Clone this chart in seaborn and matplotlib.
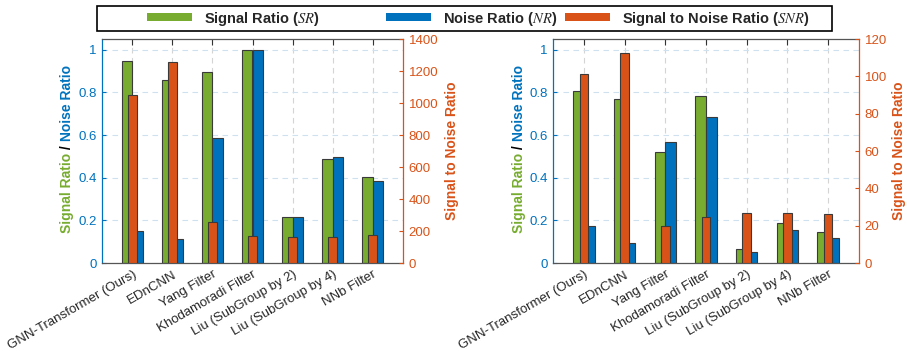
import numpy as np
import pandas as pd
import matplotlib
matplotlib.use("Agg")
import matplotlib.pyplot as plt
import seaborn as sns
from matplotlib.patches import Patch, Rectangle
from matplotlib.transforms import IdentityTransform

# ---------------- data ----------------
methods = ["GNN-Transformer (Ours)", "EDnCNN", "Yang Filter", "Khodamoradi Filter",
           "Liu (SubGroup by 2)", "Liu (SubGroup by 4)", "NNb Filter"]
sr_left = [0.949, 0.857, 0.895, 0.997, 0.214, 0.486, 0.403]
nr_left = [0.150, 0.114, 0.586, 0.997, 0.217, 0.497, 0.385]
snr_left = [1050, 1255, 257, 166, 163, 165, 175]
sr_right = [0.808, 0.768, 0.519, 0.784, 0.065, 0.187, 0.145]
nr_right = [0.172, 0.092, 0.568, 0.685, 0.053, 0.153, 0.118]
snr_right = [101.4, 112.4, 19.6, 24.4, 26.8, 26.8, 26.2]
ratio_ticks = [0, 0.2, 0.4, 0.6, 0.8, 1]
ratio_ticklabels = ["0", "0.2", "0.4", "0.6", "0.8", "1"]
snr_ticks_left = [0, 200, 400, 600, 800, 1000, 1200, 1400]
snr_ticks_right = [0, 20, 40, 60, 80, 100, 120]
legend_labels = [r"Signal Ratio ($\mathit{SR}$)", r"Noise Ratio ($\mathit{NR}$)",
                 r"Signal to Noise Ratio ($\mathit{SNR}$)"]

GREEN = "#77AC30"
BLUE = "#0072BD"
ORANGE = "#D95319"
EDGE = "#3a3a3a"

sns.set_style("white")
plt.rcParams["font.family"] = ["Liberation Sans", "DejaVu Sans"]
plt.rcParams["mathtext.fontset"] = "stix"

W, H = 907, 351
fig = plt.figure(figsize=(W / 100, H / 100), dpi=100)


def rect(x0, x1, y0, y1):
    return [x0 / W, 1 - y1 / H, (x1 - x0) / W, (y1 - y0) / H]


def panel(r, sr, nr, snr, snr_top, snr_ticks):
    ax = fig.add_axes(r)
    df = pd.DataFrame({"Method": methods * 2,
                       "Metric": ["SR"] * len(methods) + ["NR"] * len(methods),
                       "Value": list(sr) + list(nr)})
    sns.barplot(data=df, x="Method", y="Value", hue="Metric", order=methods,
                hue_order=["SR", "NR"], palette=[GREEN, BLUE], width=0.52,
                saturation=1, edgecolor=EDGE, linewidth=0.8, legend=False,
                errorbar=None, ax=ax)
    ax2 = ax.twinx()
    df2 = pd.DataFrame({"Method": methods, "SNR": snr})
    sns.barplot(data=df2, x="Method", y="SNR", order=methods, color=ORANGE,
                width=0.21, saturation=1, edgecolor=EDGE, linewidth=0.8,
                errorbar=None, ax=ax2)

    ax.set_xlim(-0.76, 6.76)
    ax2.set_xlim(-0.76, 6.76)
    ax.set_ylim(0, 1.05)
    ax2.set_ylim(0, snr_top)
    ax.set_yticks(ratio_ticks)
    ax.set_yticklabels(ratio_ticklabels)
    ax2.set_yticks(snr_ticks)
    ax.set_xlabel("")
    ax.set_ylabel("")
    ax2.set_xlabel("")
    ax2.set_ylabel("")

    ax.set_axisbelow(True)
    ax.grid(axis="x", ls=(0, (5, 4)), color="#d4d4d4", lw=0.8)
    ax.grid(axis="y", ls=(0, (5, 4)), color="#cfe1ee", lw=0.8)

    ax.set_xticks(range(len(methods)))
    ax.set_xticklabels(methods, rotation=30, ha="right", va="top",
                       rotation_mode="anchor", fontsize=9.5, color="#262626")
    ax.tick_params(axis="x", direction="in", top=True, bottom=True,
                   length=4, width=0.8, color="#333333", pad=4)
    ax.tick_params(axis="y", direction="in", length=3, width=0.8,
                   color=BLUE, labelcolor=BLUE, labelsize=9.5, pad=4)
    ax2.tick_params(axis="y", direction="in", length=3, width=0.8,
                    color=ORANGE, labelcolor=ORANGE, labelsize=9.5, pad=4)
    ax2.tick_params(axis="x", bottom=False, top=False, labelbottom=False)

    for s in ["top", "bottom"]:
        ax.spines[s].set_color("#555555")
        ax.spines[s].set_linewidth(0.9)
    ax.spines["left"].set_color(BLUE)
    ax.spines["left"].set_linewidth(0.9)
    ax.spines["right"].set_visible(False)
    ax2.spines["left"].set_visible(False)
    ax2.spines["top"].set_visible(False)
    ax2.spines["bottom"].set_visible(False)
    ax2.spines["right"].set_color(ORANGE)
    ax2.spines["right"].set_linewidth(0.9)
    return ax, ax2


panel(rect(102, 403, 39, 263), sr_left, nr_left, snr_left, 1400, snr_ticks_left)
panel(rect(553, 859, 39, 263), sr_right, nr_right, snr_right, 120, snr_ticks_right)

# right-side y labels
for xpx in (452, 899):
    fig.text(xpx / W, 1 - 151 / H, "Signal to Noise Ratio", rotation=90,
             ha="center", va="center", color=ORANGE, fontsize=10,
             fontweight="bold")

# multi-coloured left y labels
fig.canvas.draw()
renderer = fig.canvas.get_renderer()


def multi_ylabel(xpx, ycpx, parts):
    texts = []
    for s, c in parts:
        t = fig.text(0, 0, s, color=c, rotation=90, fontsize=10,
                     fontweight="bold", ha="center", va="bottom",
                     transform=IdentityTransform())
        texts.append(t)
    hs = [t.get_window_extent(renderer).height for t in texts]
    y = (H - ycpx) - sum(hs) / 2
    for t, h in zip(texts, hs):
        t.set_position((xpx, y))
        y += h


parts = [("Signal Ratio", GREEN), (" / ", "black"), ("Noise Ratio", BLUE)]
multi_ylabel(67, 149, parts)
multi_ylabel(519, 149, parts)

# legend: frame box + three entries placed individually
fig.patches.append(Rectangle((97 / W, 1 - 31 / H), 735 / W, 25 / H,
                             transform=fig.transFigure, facecolor="white",
                             edgecolor="black", linewidth=1.2, zorder=5))
entry_x = [147, 386, 565]
for lab, col, xpx in zip(legend_labels, [GREEN, BLUE, ORANGE], entry_x):
    leg = fig.legend(handles=[Patch(facecolor=col, edgecolor="none", label=lab)],
                     loc="center left", bbox_to_anchor=(xpx / W, 1 - 18.5 / H),
                     frameon=False, borderpad=0, borderaxespad=0,
                     handlelength=3.1, handleheight=0.5, handletextpad=0.8,
                     prop={"weight": "bold", "size": 10.5})
    leg.set_zorder(6)

fig.savefig("out.png", dpi=100)
